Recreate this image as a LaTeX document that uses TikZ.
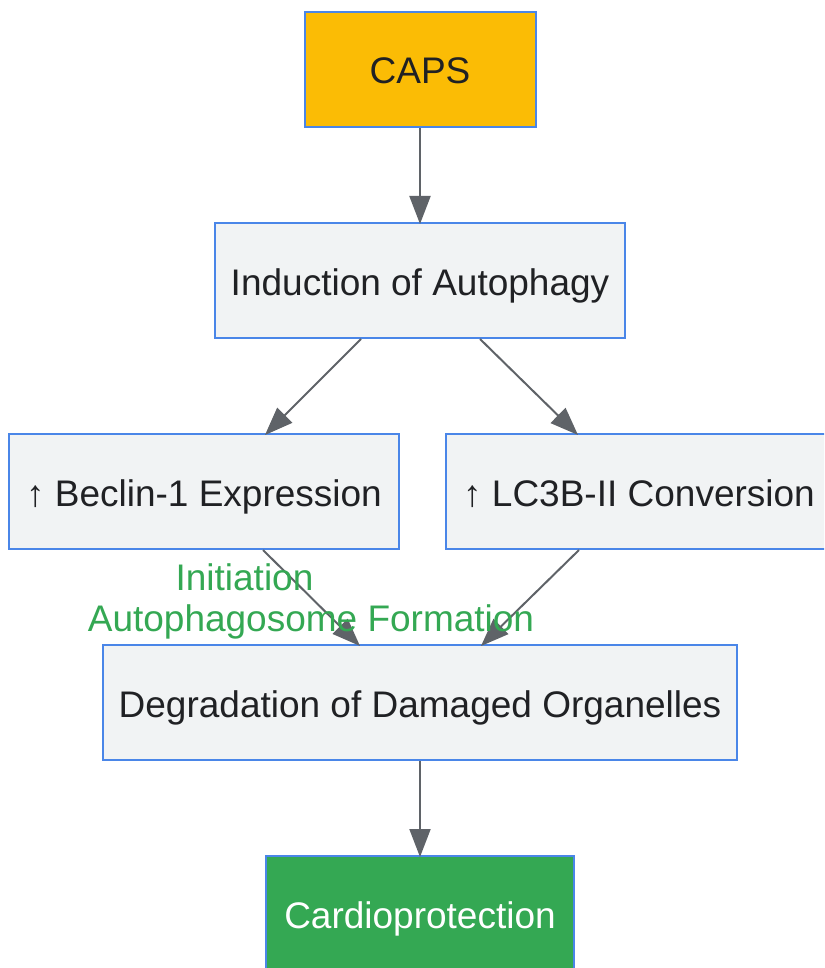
\documentclass[tikz,border=0pt]{standalone}
\usepackage{fontspec}
\setmainfont{Liberation Sans}
\usetikzlibrary{arrows.meta}
\definecolor{capsYellow}{HTML}{FBBC05}
\definecolor{boxGray}{HTML}{F1F3F4}
\definecolor{boxBlue}{HTML}{4A86E8}
\definecolor{cardioGreen}{HTML}{34A853}
\definecolor{arrowGray}{HTML}{5F6368}
\definecolor{textDark}{HTML}{202124}
\begin{document}
\begin{tikzpicture}[x=1pt,y=-1pt,%%
  boxStyle/.style={draw=boxBlue,line width=2pt,fill=boxGray,text=textDark,
    minimum height=115pt,inner sep=0pt,text height=35pt,text depth=6pt,
    font=\fontsize{37}{44}\selectfont},%%
  arrowStyle/.style={-{Triangle[length=28pt,width=21pt]},line width=2pt,draw=arrowGray},%%
  labelStyle/.style={text=cardioGreen,inner sep=0pt,anchor=base,font=\fontsize{37}{44}\selectfont}%%
]
%%
%%
\pgfmathsetmacro{\xmid}{420}
\pgfmathsetmacro{\gap}{2}
%%
\clip (0,0) rectangle (824,968);
%%
%% The boxes.
\node[boxStyle,fill=capsYellow,minimum width=231pt] (capsBox) at (\xmid,69.5) {CAPS};
\node[boxStyle,minimum width=410pt] (inductionBox) at (\xmid,280.5) {Induction of Autophagy};
\node[boxStyle,minimum width=390pt] (beclinBox) at (204,491.5) {↑ Beclin-1 Expression};
\node[boxStyle,minimum width=386pt] (lcBox) at (639,491.5) {↑ LC3B-II Conversion};
\node[boxStyle,minimum width=634pt] (degradationBox) at (\xmid,702.5) {Degradation of Damaged Organelles};
\node[boxStyle,fill=cardioGreen,text=white,minimum width=308pt] (cardioBox) at (\xmid,913.5) {Cardioprotection};
%%
%% Connectors between the boxes.
\draw[arrowStyle] (capsBox.south) -- ([yshift=-\gap]inductionBox.north);
\draw[arrowStyle] ([xshift=-59pt]inductionBox.south) -- ([xshift=61pt,yshift=-\gap]beclinBox.north);
\draw[arrowStyle] ([xshift=60pt]inductionBox.south) -- ([xshift=-61pt,yshift=-\gap]lcBox.north);
\draw[arrowStyle] ([xshift=59pt]beclinBox.south) -- ([xshift=-60pt,yshift=-\gap]degradationBox.north);
\draw[arrowStyle] ([xshift=-60pt]lcBox.south) -- ([xshift=61pt,yshift=-\gap]degradationBox.north);
\draw[arrowStyle] (degradationBox.south) -- ([yshift=-\gap]cardioBox.north);
%%
%% Edge labels.
\node[labelStyle] (initiationLabel) at (244.5,590) {Initiation};
\node[labelStyle] (formationLabel) at (311,631) {Autophagosome Formation};
\end{tikzpicture}
\end{document}
